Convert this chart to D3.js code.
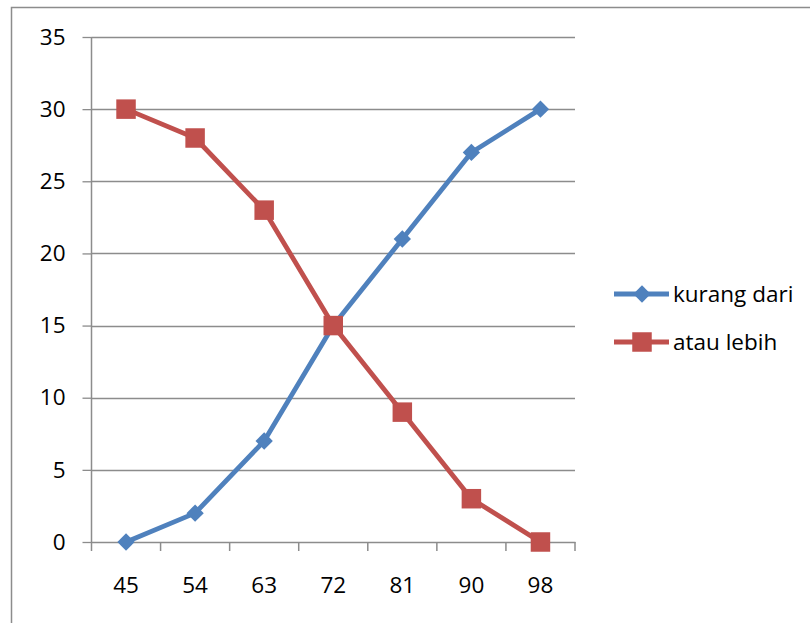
<!DOCTYPE html>
<html>
<head>
<meta charset="utf-8">
<script src="https://cdn.jsdelivr.net/npm/d3@7"></script>
<style>
  html, body { margin: 0; padding: 0; background: #fff; }
  svg { display: block; }
  text { font-family: "Open Sans", "Noto Sans", sans-serif; fill: #000; }
</style>
</head>
<body>
<svg id="chart" width="810" height="623"></svg>
<script>
// Category labels on the x axis
const categories = ["45", "54", "63", "72", "81", "90", "98"];
// Cumulative frequencies
const kurangDari = [0, 2, 7, 15, 21, 27, 30];
const atauLebih = [30, 28, 23, 15, 9, 3, 0];
// Y axis ticks
const yTicks = [0, 5, 10, 15, 20, 25, 30, 35];

const seriesNames = ["kurang dari", "atau lebih"];
const seriesColors = ["#4F81BD", "#C0504D"];
const seriesMarkers = ["diamond", "square"];
const seriesValues = [kurangDari, atauLebih];

const svg = d3.select("#chart");
const gridColor = "#8C8C8C";
const fontSize = "22.5px";

// Outer chart frame
svg.append("rect")
  .attr("x", 11.5).attr("y", 7.5)
  .attr("width", 820).attr("height", 640)
  .attr("fill", "#fff")
  .attr("stroke", gridColor).attr("stroke-width", 1.5);

const plot = { left: 91.5, right: 575, top: 37, bottom: 542 };

const x = d3.scaleBand().domain(categories).range([plot.left, plot.right]);
const y = d3.scaleLinear().domain([0, 35]).range([plot.bottom, plot.top]);
const cx = c => x(c) + x.bandwidth() / 2;

// Horizontal gridlines
svg.append("g")
  .selectAll("line")
  .data(yTicks.filter(t => t > 0))
  .join("line")
  .attr("x1", plot.left).attr("x2", plot.right)
  .attr("y1", d => Math.round(y(d)) + 0.5).attr("y2", d => Math.round(y(d)) + 0.5)
  .attr("stroke", gridColor).attr("stroke-width", 1.3);

// Y axis
const yAxis = svg.append("g")
  .attr("transform", `translate(${plot.left},0)`)
  .call(d3.axisLeft(y).tickValues(yTicks).tickSize(9).tickPadding(17).tickFormat(d3.format("d")));
yAxis.select(".domain").attr("stroke", gridColor).attr("stroke-width", 1.5).attr("d", `M0,${plot.top}V${plot.bottom}`);
yAxis.selectAll(".tick line").attr("stroke", gridColor).attr("stroke-width", 1.3);
yAxis.selectAll(".tick text").style("font-size", fontSize).attr("font-family", null);

// X axis
const xAxis = svg.append("g")
  .attr("transform", `translate(0,${plot.bottom})`)
  .call(d3.axisBottom(x).tickSize(0).tickPadding(35));
xAxis.select(".domain").attr("stroke", gridColor).attr("stroke-width", 1.5);
xAxis.selectAll(".tick text").style("font-size", fontSize).attr("font-family", null);
// Tick marks on the band boundaries
const boundaries = categories.map(c => x(c)).concat([plot.right]);
xAxis.selectAll("line.bound")
  .data(boundaries)
  .join("line")
  .attr("class", "bound")
  .attr("x1", d => d).attr("x2", d => d)
  .attr("y1", 0).attr("y2", 9)
  .attr("stroke", gridColor).attr("stroke-width", 1.5);

const symbolFor = m => m === "diamond"
  ? d3.symbol().type(d3.symbolSquare).size(150)
  : d3.symbol().type(d3.symbolSquare).size(380);

// Series lines and markers
seriesValues.forEach((vals, i) => {
  const pts = categories.map((c, j) => [cx(c), y(vals[j])]);
  svg.append("path")
    .attr("d", d3.line()(pts))
    .attr("fill", "none")
    .attr("stroke", seriesColors[i])
    .attr("stroke-width", 4.8)
    .attr("stroke-linejoin", "round");
  svg.append("g")
    .selectAll("path")
    .data(pts)
    .join("path")
    .attr("d", symbolFor(seriesMarkers[i]))
    .attr("transform", d => `translate(${d[0]},${d[1]})` + (seriesMarkers[i] === "diamond" ? " rotate(45)" : ""))
    .attr("fill", seriesColors[i]);
});

// Legend
const legend = svg.append("g");
seriesNames.forEach((name, i) => {
  const ly = 294 + i * 48;
  legend.append("line")
    .attr("x1", 614).attr("x2", 669)
    .attr("y1", ly).attr("y2", ly)
    .attr("stroke", seriesColors[i]).attr("stroke-width", 4.8);
  legend.append("path")
    .attr("d", symbolFor(seriesMarkers[i])())
    .attr("transform", `translate(642,${ly})` + (seriesMarkers[i] === "diamond" ? " rotate(45)" : ""))
    .attr("fill", seriesColors[i]);
  legend.append("text")
    .attr("x", 673).attr("y", ly + 8)
    .style("font-size", fontSize)
    .text(name);
});
</script>
</body>
</html>
